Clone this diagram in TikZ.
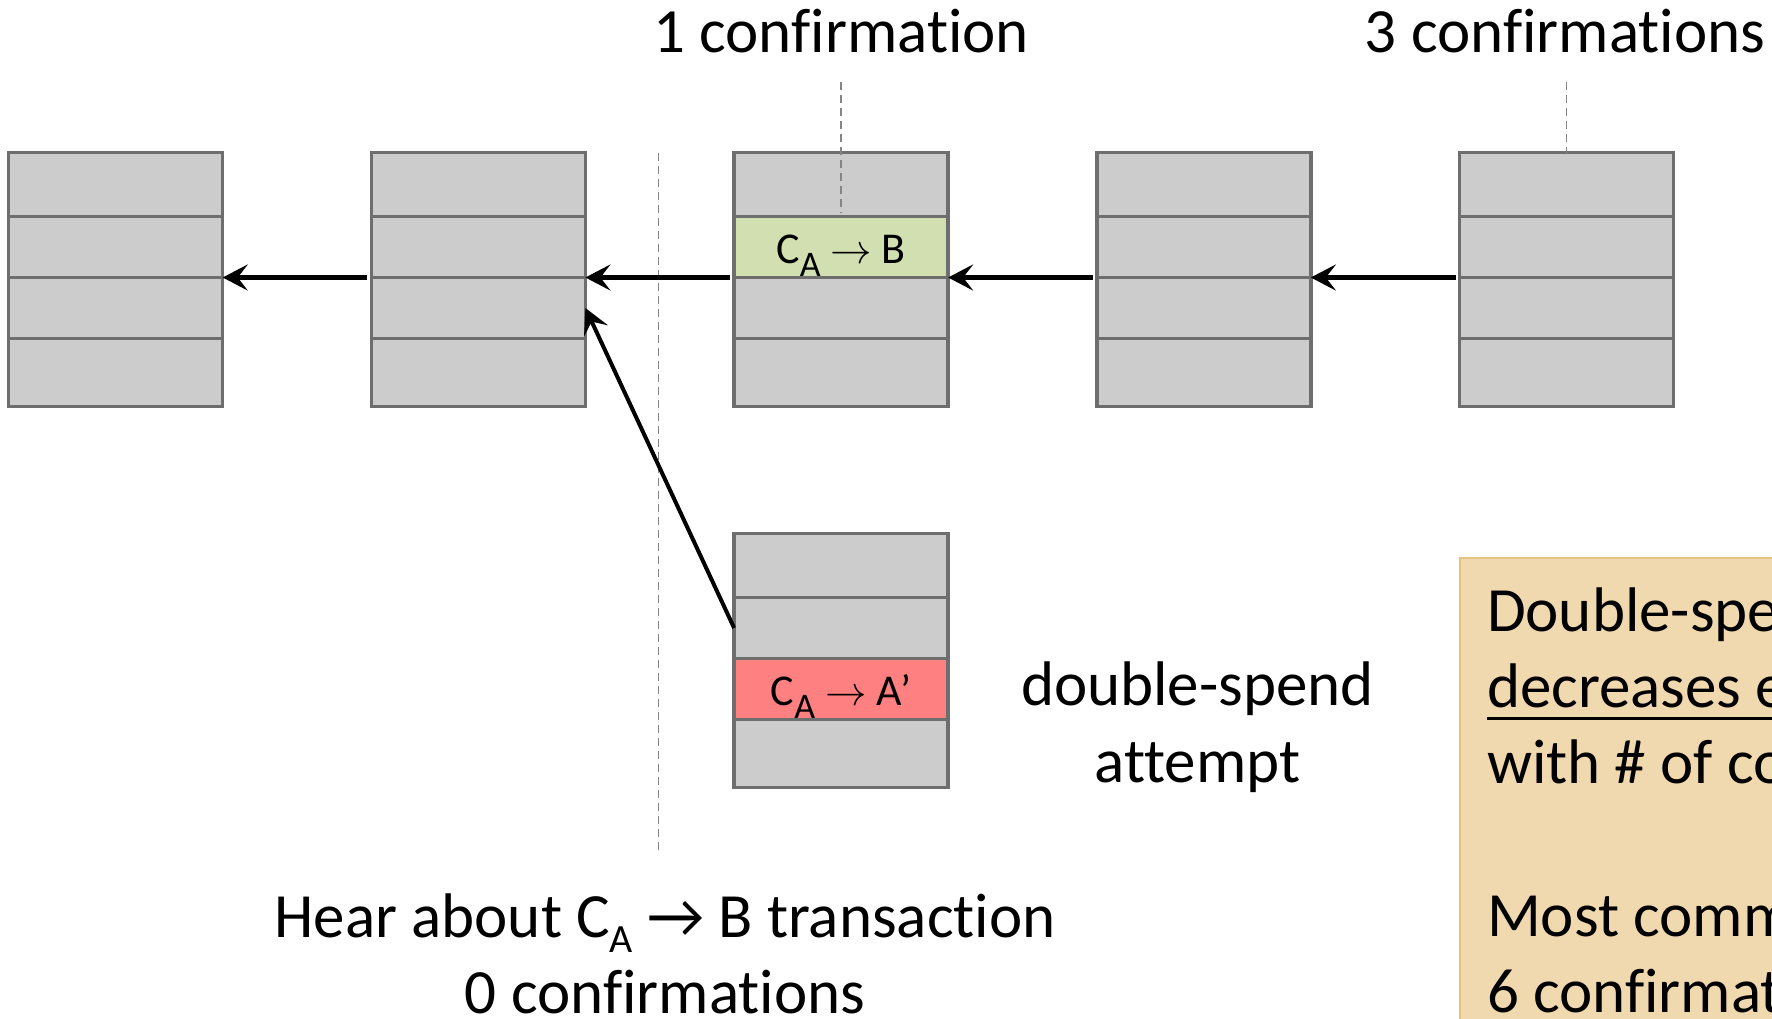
\documentclass[tikz,border=0pt]{standalone}
\usepackage{fontspec}
\setmainfont{Carlito}[Ligatures={NoCommon}]
\newfontfamily\arrowsym{DejaVu Sans}
\usetikzlibrary{arrows.meta}
\definecolor{cellgray}{HTML}{CCCCCC}
\definecolor{cellborder}{HTML}{6E6E6E}
\definecolor{cellgreen}{HTML}{D2E0B1}
\definecolor{cellred}{HTML}{FF8080}
\definecolor{notefill}{HTML}{F0D9AF}
\definecolor{noteborder}{HTML}{E6C382}
\definecolor{guidegray}{HTML}{858585}
\newcommand\cellsub[1]{\raisebox{-6.5pt}{\fontsize{18}{18}\selectfont #1}}
\newcommand\bigsub[1]{\raisebox{-7.5pt}{\fontsize{20}{20}\selectfont #1}}
\newcommand\bigarrow{\iffontchar\font"2192 →\else{\arrowsym →}\fi}
\tikzset{
  rowbox/.style={draw=cellborder, line width=1.75pt, fill=cellgray,
    minimum width=107pt, inner sep=0pt, outer sep=0pt,
    text height=16pt, text depth=0pt, font=\fontsize{22}{26}\selectfont},
  chainarrow/.style={line width=2.25pt, -{Stealth[length=12.5pt, width=13pt, inset=5pt]}},
  forkarrow/.style={line width=2pt, -{Stealth[length=12.5pt, width=13pt, inset=5pt]}},
  guide/.style={draw=guidegray, line width=0.9pt, dash pattern=on 4pt off 2.5pt},
  biglabel/.style={inner sep=0pt, outer sep=0pt, font=\fontsize{31.5}{38}\selectfont},
  notebox/.style={draw=noteborder, line width=1pt, fill=notefill, inner sep=0pt},
  uline/.style={line width=1.35pt}
}
\newcommand\mkblock[7]{%
  \node[rowbox, minimum height=32pt, anchor=north] (#1a) at (#2,#3) {};
  \node[rowbox, minimum height=30.5pt, anchor=north, fill=#4] (#1b) at (#1a.south) {#5};
  \node[rowbox, minimum height=30.5pt, anchor=north, fill=#6] (#1c) at (#1b.south) {#7};
  \node[rowbox, minimum height=34pt, anchor=north] (#1d) at (#1c.south) {};
}
\begin{document}
\begin{tikzpicture}[x=0.5pt, y=-0.5pt]
\useasboundingbox (0,0) rectangle (1772,1018);
\clip (0,0) rectangle (1772,1018);

% note box (cut by the picture edge, as in the reference)
\node[notebox, anchor=north west, minimum width=250pt, minimum height=300pt] (note) at (1459,557) {};
\node[biglabel, anchor=base west] (n1) at (1487,631) {Double-spe};
\node[biglabel, anchor=base west] (n2) at (1487,707) {decreases e};
\node[biglabel, anchor=base west] (n3) at (1487,783) {with \# of co};
\node[biglabel, anchor=base west] (n4) at (1487,936) {Most comm};
\node[biglabel, anchor=base west] (n5) at (1487,1012) {6 confirmat};
\draw[uline] ([yshift=-5.75pt]n2.base west) -- ++(320,0);

% dashed guide lines
\coordinate (g1top) at (658.4,152.5);
\coordinate (g1bot) at (658.4,853);
\draw[guide] (g1top) -- (g1bot);

% blocks
\mkblock{bA}{115.7}{152.5}{cellgray}{}{cellgray}{}
\mkblock{bB}{478.4}{152.5}{cellgray}{}{cellgray}{}
\mkblock{bC}{841.1}{152.5}{cellgreen}{C\cellsub{A} $\rightarrow$ B}{cellgray}{}
\mkblock{bD}{1203.8}{152.5}{cellgray}{}{cellgray}{}
\mkblock{bE}{1566.5}{152.5}{cellgray}{}{cellgray}{}
\mkblock{bF}{841.1}{533.5}{cellgray}{}{cellred}{C\cellsub{A} $\rightarrow$ A’}

% labels
\node[biglabel, anchor=base] (lab1) at (841.1,52) {1 confirmation};
\node[biglabel, anchor=base] (lab3) at (1565,52) {3 confirmations};
\node[biglabel, anchor=base] (ds1) at (1197.5,705) {double-spend};
\node[biglabel, anchor=base] (ds2) at (1197.5,782.6) {attempt};
\node[biglabel, anchor=base] (hear1) at (665,937) {Hear about C\bigsub{A} \bigarrow{} B transaction};
\node[biglabel, anchor=base] (hear2) at (665,1013) {0 confirmations};

\coordinate (g2top) at (841.1,82);
\coordinate (g3top) at (1566.5,82);
\draw[guide] (g2top) -- ([yshift=2pt]bCa.south);
\draw[guide] (g3top) -- (bEa.north);

% chain arrows
\draw[chainarrow] ([xshift=-2pt]bBb.south west) -- (bAb.south east);
\draw[chainarrow] ([xshift=-2pt]bCb.south west) -- (bBb.south east);
\draw[chainarrow] ([xshift=-2pt]bDb.south west) -- (bCb.south east);
\draw[chainarrow] ([xshift=-2pt]bEb.south west) -- (bDb.south east);
\draw[forkarrow] (bFb.west) -- (bBc.east);
\end{tikzpicture}
\end{document}
